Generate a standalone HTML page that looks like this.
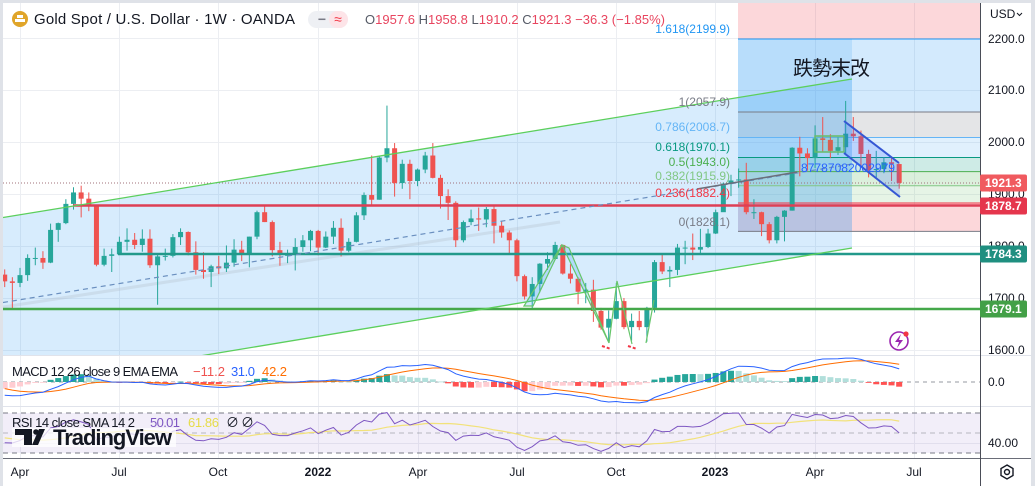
<!DOCTYPE html>
<html><head><meta charset="utf-8"><title>Gold Spot / U.S. Dollar 1W</title>
<style>
html,body{margin:0;padding:0;background:#dfe2e8;width:1035px;height:486px;overflow:hidden}
svg{display:block}
text{font-family:"Liberation Sans","Noto Sans CJK TC",sans-serif}
</style></head><body>
<svg id="chart" xmlns="http://www.w3.org/2000/svg" width="1035" height="486" viewBox="0 0 1035 486">
<defs>
 <clipPath id="cm"><rect x="3" y="3" width="977" height="352"/></clipPath>
 <clipPath id="cd"><rect x="3" y="356" width="977" height="50"/></clipPath>
 <clipPath id="cr"><rect x="3" y="407" width="977" height="51"/></clipPath>
</defs>
<rect x="3" y="3" width="1028" height="483" fill="#ffffff"/>

<!-- grid -->
<g stroke="#eceef2" stroke-width="1">
 <line x1="20.5" y1="3" x2="20.5" y2="458"/><line x1="119.5" y1="3" x2="119.5" y2="458"/>
 <line x1="218.5" y1="3" x2="218.5" y2="458"/><line x1="318.5" y1="3" x2="318.5" y2="458"/>
 <line x1="418.5" y1="3" x2="418.5" y2="458"/><line x1="517.5" y1="3" x2="517.5" y2="458"/>
 <line x1="616.5" y1="3" x2="616.5" y2="458"/><line x1="715.5" y1="3" x2="715.5" y2="458"/>
 <line x1="815.5" y1="3" x2="815.5" y2="458"/><line x1="914.5" y1="3" x2="914.5" y2="458"/>
 <line x1="3" y1="38.5" x2="980" y2="38.5"/><line x1="3" y1="90.5" x2="980" y2="90.5"/>
 <line x1="3" y1="142.5" x2="980" y2="142.5"/><line x1="3" y1="194.5" x2="980" y2="194.5"/>
 <line x1="3" y1="246.5" x2="980" y2="246.5"/><line x1="3" y1="298.5" x2="980" y2="298.5"/>
 <line x1="3" y1="350.5" x2="980" y2="350.5"/>
 <line x1="3" y1="443.5" x2="980" y2="443.5"/>
</g>

<g clip-path="url(#cm)">
 <!-- fib fills -->
 <rect x="738" y="3" width="242" height="36" fill="rgba(242,54,69,0.2)"/>
 <rect x="738" y="39" width="242" height="73" fill="rgba(33,150,243,0.2)"/>
 <rect x="738" y="112" width="242" height="25.5" fill="rgba(120,123,134,0.2)"/>
 <rect x="738" y="137.5" width="242" height="20" fill="rgba(100,181,246,0.2)"/>
 <rect x="738" y="157.5" width="242" height="14.1" fill="rgba(8,153,129,0.2)"/>
 <rect x="738" y="171.6" width="242" height="14.1" fill="rgba(76,175,80,0.2)"/>
 <rect x="738" y="185.7" width="242" height="17.3" fill="rgba(129,199,132,0.2)"/>
 <rect x="738" y="203" width="242" height="28.4" fill="rgba(242,54,69,0.2)"/>
 <rect x="738" y="39" width="114" height="192.4" fill="rgba(33,150,243,0.15)"/>
 <!-- big channel fill -->
 <polygon points="3,217.5 852,79 852,248 3,388.6" fill="rgba(33,150,243,0.18)"/>
 <!-- fib lines -->
 <g stroke-width="1">
  <line x1="738" y1="39" x2="980" y2="39" stroke="#2196f3"/>
  <line x1="738" y1="112" x2="980" y2="112" stroke="#787b86"/>
  <line x1="738" y1="137.5" x2="980" y2="137.5" stroke="#64b5f6"/>
  <line x1="738" y1="157.5" x2="980" y2="157.5" stroke="#089981"/>
  <line x1="738" y1="171.6" x2="980" y2="171.6" stroke="#4caf50"/>
  <line x1="738" y1="185.7" x2="980" y2="185.7" stroke="#81c784"/>
  <line x1="738" y1="203" x2="980" y2="203" stroke="#f23645"/>
  <line x1="738" y1="231.4" x2="980" y2="231.4" stroke="#787b86"/>
 </g>
 <!-- faint trend line -->
 <line x1="3" y1="307" x2="560" y2="222" stroke="rgba(175,185,198,0.3)" stroke-width="3"/>
 <!-- current price dotted -->
 <line x1="3" y1="183" x2="980" y2="183" stroke="#a0707a" stroke-width="1" stroke-dasharray="1,2"/>
 <g id="candles"></g>
 <!-- horizontal levels -->
 <line x1="73" y1="205.5" x2="980" y2="205.5" stroke="#de3f55" stroke-width="2.5"/>
 <line x1="118" y1="254" x2="980" y2="254" stroke="#22998b" stroke-width="2.5"/>
 <line x1="3" y1="309" x2="980" y2="309" stroke="#45a84a" stroke-width="2.5"/>
 <!-- channel lines -->
 <line x1="3" y1="217.5" x2="852" y2="79" stroke="#5ccf5c" stroke-width="1.3"/>
 <line x1="3" y1="388.6" x2="852" y2="248" stroke="#5ccf5c" stroke-width="1.3"/>
 <line x1="3" y1="302.5" x2="852" y2="164" stroke="#6a8fbf" stroke-width="1.2" stroke-dasharray="5,4"/>
 <line x1="697" y1="189" x2="797" y2="172" stroke="#6b6f7a" stroke-width="1.5"/>
 <!-- zigzag pattern -->
 <g stroke="#66c56a" stroke-width="1.2" fill="rgba(33,150,243,0.2)">
  <polygon points="524,306 562,245 533,306"/>
  <polygon points="562,245 609,343 569,248"/>
  <polyline points="609,343 617,281 632,344" fill="none"/>
  <polyline points="646,343 654,300" fill="none"/>
 </g>
 <line x1="602" y1="346" x2="611" y2="349" stroke="#f23645" stroke-width="2" stroke-dasharray="3,2"/>
 <line x1="628" y1="346" x2="637" y2="349" stroke="#f23645" stroke-width="2" stroke-dasharray="3,2"/>
 <!-- consolidation box -->
 <rect x="815" y="136" width="29" height="16" fill="rgba(76,175,80,0.15)" stroke="#66bb6a" stroke-width="1.5"/>
 <!-- descending channel -->
 <polygon points="844,121 899,163 900,197 844,153" fill="rgba(41,98,255,0.2)"/>
 <line x1="844" y1="121" x2="899" y2="163" stroke="#3557d4" stroke-width="2"/>
 <line x1="844" y1="153" x2="900" y2="197" stroke="#3557d4" stroke-width="2"/>
 <text x="801" y="172" font-size="12" fill="#2962ff" textLength="94" lengthAdjust="spacingAndGlyphs">87787082002979</text>
 <!-- fib labels -->
 <g font-size="12" text-anchor="end">
  <text x="730" y="33" fill="#2196f3">1.618(2199.9)</text>
  <text x="730" y="106" fill="#787b86">1(2057.9)</text>
  <text x="730" y="131" fill="#64b5f6">0.786(2008.7)</text>
  <text x="730" y="151" fill="#089981">0.618(1970.1)</text>
  <text x="730" y="166" fill="#4caf50">0.5(1943.0)</text>
  <text x="730" y="180" fill="#81c784">0.382(1915.9)</text>
  <text x="730" y="197" fill="#f23645">0.236(1882.4)</text>
  <text x="730" y="226" fill="#787b86">0(1828.1)</text>
 </g>
 <text x="793" y="75" font-size="20" fill="#131722" textLength="77">跌勢末改</text>
 <!-- lightning icon -->
 <circle cx="899" cy="341" r="9" fill="#fff" stroke="#9c27b0" stroke-width="1.6"/>
 <polygon points="901,334 895,342 899,342 897,348 903,340 899,340" fill="#9c27b0"/>
 <circle cx="906" cy="334" r="2.6" fill="#f23645"/>
</g>

<!-- header -->
<circle cx="20" cy="19" r="8" fill="#e0a52a"/>
<rect x="15" y="19" width="10" height="3" fill="#fff"/>
<rect x="17" y="15" width="6" height="3" fill="#fff"/>
<text x="34" y="24" font-size="15" fill="#131722" textLength="261">Gold Spot / U.S. Dollar · 1W · OANDA</text>
<rect x="308" y="11" width="40" height="17" rx="8.5" fill="#eef0f4"/>
<rect x="329" y="11" width="19" height="17" rx="8.5" fill="#fde4e8"/>
<text x="322" y="24" font-size="14" fill="#787b86" text-anchor="middle" font-weight="bold">−</text>
<text x="338" y="24" font-size="14" fill="#f23645" text-anchor="middle">≈</text>
<text x="365" y="24" font-size="13" fill="#e8455f" textLength="300"><tspan fill="#555a66">O</tspan>1957.6 <tspan fill="#555a66">H</tspan>1958.8 <tspan fill="#555a66">L</tspan>1910.2 <tspan fill="#555a66">C</tspan>1921.3 −36.3 (−1.85%)</text>

<!-- MACD pane -->
<line x1="3" y1="355.5" x2="1031" y2="355.5" stroke="#e0e3eb"/>
<g clip-path="url(#cd)">
 <line x1="3" y1="382" x2="980" y2="382" stroke="#9598a1" stroke-dasharray="4,4" stroke-width="1"/>
 <g id="macd"></g>
</g>
<line x1="3" y1="406.5" x2="1031" y2="406.5" stroke="#e0e3eb"/>
<text x="12" y="376" font-size="13" fill="#131722" textLength="166">MACD 12 26 close 9 EMA EMA</text>
<text x="193" y="376" font-size="13" fill="#ef5350" textLength="32">−11.2</text>
<text x="231" y="376" font-size="13" fill="#2962ff" textLength="24">31.0</text>
<text x="262" y="376" font-size="13" fill="#ff6d00" textLength="25">42.2</text>

<!-- RSI pane -->
<rect x="3" y="413" width="977" height="40" fill="rgba(126,87,194,0.1)"/>
<line x1="3" y1="413" x2="980" y2="413" stroke="#787b86" stroke-dasharray="5,4"/>
<line x1="3" y1="433" x2="980" y2="433" stroke="rgba(120,123,134,0.5)" stroke-dasharray="5,4"/>
<line x1="3" y1="453" x2="980" y2="453" stroke="#787b86" stroke-dasharray="5,4"/>
<g clip-path="url(#cr)"><g id="rsi"></g></g>
<text x="12" y="427" font-size="13" fill="#131722" textLength="123">RSI 14 close SMA 14 2</text>
<text x="150" y="427" font-size="13" fill="#7e57c2" textLength="30">50.01</text>
<text x="188" y="427" font-size="13" fill="#e6dc4a" textLength="31">61.86</text>
<text x="226" y="427" font-size="13" fill="#131722">∅</text>
<text x="241" y="427" font-size="13" fill="#131722">∅</text>
<!-- TradingView logo -->
<rect x="12" y="428" width="164" height="19" fill="rgba(255,255,255,0.75)"/>
<rect x="15" y="429" width="17" height="6" fill="#131722"/>
<rect x="24" y="429" width="8" height="16" fill="#131722"/>
<circle cx="36" cy="432" r="2.8" fill="#131722"/>
<polygon points="39,429 45,429 38,445 32,445" fill="#131722"/>
<text x="53" y="445" font-size="22" font-weight="bold" fill="#131722" textLength="119">TradingView</text>

<!-- time axis -->
<line x1="3" y1="458.5" x2="1031" y2="458.5" stroke="#6a6d78"/>
<g font-size="12" fill="#131722" text-anchor="middle">
 <text x="20" y="476">Apr</text><text x="119" y="476">Jul</text><text x="218" y="476">Oct</text>
 <text x="318" y="476" font-weight="bold">2022</text><text x="418" y="476">Apr</text>
 <text x="517" y="476">Jul</text><text x="616" y="476">Oct</text>
 <text x="715" y="476" font-weight="bold">2023</text><text x="815" y="476">Apr</text>
 <text x="914" y="476">Jul</text>
</g>

<!-- right axis -->
<line x1="980.5" y1="3" x2="980.5" y2="486" stroke="#4a4d57"/>
<g font-size="12" fill="#131722">
 <text x="990" y="18">USD</text>
 <text x="988" y="43">2200.0</text><text x="988" y="94">2100.0</text>
 <text x="988" y="146">2000.0</text><text x="988" y="198">1900.0</text>
 <text x="988" y="250">1800.0</text><text x="988" y="302">1700.0</text>
 <text x="988" y="354">1600.0</text>
</g>
<polyline points="1017,13 1019.5,15.5 1022,13" fill="none" stroke="#131722" stroke-width="1"/>
<rect x="981" y="356" width="50" height="50" fill="#fff"/>
<line x1="981" y1="355.5" x2="1031" y2="355.5" stroke="#e0e3eb"/>
<line x1="981" y1="406.5" x2="1031" y2="406.5" stroke="#e0e3eb"/>
<text x="988" y="386" font-size="12" fill="#131722">0.0</text>
<text x="988" y="447" font-size="12" fill="#131722">40.00</text>
<g font-size="12" fill="#ffffff" font-weight="bold">
 <rect x="980" y="174.5" width="47" height="17" rx="2" fill="#f05a5f"/><text x="985" y="187">1921.3</text>
 <rect x="980" y="197.5" width="47" height="17" rx="2" fill="#e5364d"/><text x="985" y="210">1878.7</text>
 <rect x="980" y="245.5" width="47" height="17" rx="2" fill="#1f8f80"/><text x="985" y="258">1784.3</text>
 <rect x="980" y="300.5" width="47" height="17" rx="2" fill="#43a047"/><text x="985" y="313">1679.1</text>
</g>
<polygon points="1007,465 1013,468.5 1013,475.5 1007,479 1001,475.5 1001,468.5" fill="none" stroke="#131722" stroke-width="1.4"/>
<circle cx="1007" cy="472" r="2.5" fill="none" stroke="#131722" stroke-width="1.4"/>
</svg>

<script>
(function(){
var ns='http://www.w3.org/2000/svg';
function el(t,a,p){var e=document.createElementNS(ns,t);for(var k in a)e.setAttribute(k,a[k]);p.appendChild(e);return e;}
var pre=[1560,1557,1571,1589,1570,1584,1643,1585,1674,1529,1498,1617,1620,1683,1683,1729,1700,1702,1743,1735,1730,1685,1730,1743,1771,1775,1799,1810,1902,1975,2035,1944,1940,1964,1933,1940,1950,1862,1900,1930,1900,1902,1879,1951,1889,1871,1788,1838,1839,1881,1877,1895,1850,1829,1856,1848,1814,1824,1784,1734,1700,1720,1745];
var bars=[
[1745,1755,1721,1732],[1732,1740,1677,1729],[1729,1758,1721,1744],[1744,1784,1733,1777],[1777,1797,1763,1777],[1777,1790,1756,1768],
[1768,1843,1767,1831],[1831,1845,1808,1844],[1844,1890,1842,1881],[1881,1913,1870,1903],[1903,1916,1855,1891],
[1891,1903,1867,1877],[1877,1878,1761,1764],[1764,1795,1761,1781],[1781,1795,1750,1784],
[1784,1818,1783,1808],[1808,1834,1791,1812],[1812,1825,1794,1802],[1802,1832,1789,1814],
[1814,1832,1758,1763],[1763,1784,1687,1780],[1780,1795,1772,1781],[1781,1823,1778,1817],[1817,1834,1802,1827],
[1827,1828,1782,1788],[1788,1809,1745,1754],[1754,1788,1737,1750],[1750,1764,1721,1761],
[1761,1781,1746,1757],[1757,1801,1750,1768],[1768,1813,1760,1793],[1793,1810,1771,1783],
[1783,1818,1759,1818],[1818,1868,1813,1865],[1865,1877,1846,1846],[1846,1849,1780,1792],[1792,1808,1762,1783],
[1783,1793,1767,1783],[1783,1815,1753,1798],[1798,1821,1789,1811],[1811,1831,1790,1829],
[1829,1831,1782,1797],[1797,1828,1796,1818],[1818,1848,1804,1835],[1835,1853,1780,1791],[1791,1815,1788,1808],
[1808,1865,1807,1859],[1859,1903,1850,1898],[1898,1974,1878,1889],[1889,1974,1889,1970],
[1970,2070,1961,1988],[1988,1998,1895,1921],[1921,1966,1910,1958],[1958,1966,1890,1925],
[1925,1949,1915,1947],[1947,1981,1940,1974],[1974,1998,1930,1931],[1931,1937,1872,1896],
[1896,1909,1850,1883],[1883,1886,1798,1811],[1811,1849,1807,1846],[1846,1870,1840,1853],[1853,1874,1829,1851],
[1851,1875,1836,1871],[1871,1879,1805,1839],[1839,1847,1816,1826],[1826,1830,1785,1811],
[1811,1814,1732,1742],[1742,1745,1697,1703],[1703,1740,1680,1727],[1727,1767,1711,1766],
[1766,1788,1754,1775],[1775,1808,1774,1802],[1802,1803,1745,1747],[1747,1765,1728,1737],[1737,1740,1688,1712],
[1712,1729,1690,1716],[1716,1735,1654,1675],[1675,1681,1639,1643],[1643,1676,1615,1660],
[1660,1729,1659,1694],[1694,1700,1640,1644],[1644,1670,1618,1656],[1656,1675,1638,1644],[1644,1683,1616,1681],
[1681,1773,1672,1769],[1769,1786,1746,1751],[1751,1761,1721,1754],[1754,1804,1744,1797],
[1797,1810,1765,1797],[1797,1824,1773,1793],[1793,1833,1784,1798],[1798,1833,1796,1824],
[1824,1870,1823,1865],[1865,1922,1867,1920],[1920,1937,1896,1926],[1926,1949,1912,1928],[1928,1960,1861,1865],
[1865,1890,1852,1865],[1865,1866,1819,1842],[1842,1846,1805,1811],[1811,1858,1805,1856],
[1856,1869,1809,1868],[1868,1990,1868,1989],[1989,2010,1934,1978],[1978,1988,1945,1969],
[1969,2032,1950,2007],[2007,2048,1982,2004],[2004,2015,1969,1983],[1983,2009,1975,1990],
[1990,2079,1977,2016],[2016,2048,2002,2011],[2011,2022,1952,1977],[1977,1985,1932,1946],[1946,1983,1932,1948],
[1948,1971,1940,1961],[1961,1971,1925,1958],[1957.6,1958.8,1910.2,1921.3]];
function Y(p){return 142+(2000-p)*0.52;}
function X(k){return 20+(k-2)*7.645;}
var gC=document.getElementById('candles');
bars.forEach(function(b,k){
  var o=b[0],h=b[1],l=b[2],c=b[3],x=X(k),col=c>=o?'#26a69a':'#ef5350';
  el('line',{x1:x,x2:x,y1:Y(h),y2:Y(l),stroke:col,'stroke-width':1},gC);
  var y1=Y(Math.max(o,c)),y2=Y(Math.min(o,c));
  el('rect',{x:x-2.5,y:y1,width:5,height:Math.max(1,y2-y1),fill:col},gC);
});
var cl=pre.concat(bars.map(function(b){return b[3];}));
var off=pre.length;
function ema(a,n){var k=2/(n+1),r=[],e=a[0];for(var i=0;i<a.length;i++){e=i===0?a[0]:a[i]*k+e*(1-k);r.push(e);}return r;}
var e12=ema(cl,12),e26=ema(cl,26),m=cl.map(function(_,i){return e12[i]-e26[i];});
var sg=ema(m,9),hs=m.map(function(v,i){return v-sg[i];});
var gM=document.getElementById('macd');
function MY(v){return 382-v*0.42;}
var pm=[],ps=[];
for(var k=0;k<bars.length;k++){
  var i=k+off,x=X(k),h=hs[i],ph=hs[i-1],col;
  if(h>=0)col=(ph<h)?'#26a69a':'#b2dfdb';else col=(ph<h)?'#ffcdd2':'#ff5252';
  var ya=MY(0),yb=MY(h);
  el('rect',{x:x-3,y:Math.min(ya,yb),width:6,height:Math.max(0.8,Math.abs(yb-ya)),fill:col},gM);
  pm.push(x.toFixed(1)+','+MY(m[i]).toFixed(1));ps.push(x.toFixed(1)+','+MY(sg[i]).toFixed(1));
}
el('polyline',{points:ps.join(' '),fill:'none',stroke:'#ff6d00','stroke-width':1},gM);
el('polyline',{points:pm.join(' '),fill:'none',stroke:'#2962ff','stroke-width':1},gM);
var rsi=[],ag=0,al=0;
for(var i=1;i<cl.length;i++){
  var ch=cl[i]-cl[i-1],g=Math.max(ch,0),l=Math.max(-ch,0);
  if(i<=14){ag+=g/14;al+=l/14;rsi[i]=(i===14)?100-100/(1+ag/al):null;}
  else{ag=(ag*13+g)/14;al=(al*13+l)/14;rsi[i]=100-100/(1+ag/al);}
}
var sma=[];for(var i=0;i<cl.length;i++){if(i<28){sma[i]=null;continue;}var s=0;for(var j=i-13;j<=i;j++)s+=rsi[j];sma[i]=s/14;}
var gR=document.getElementById('rsi'),pr=[],pa=[];
for(var k=0;k<bars.length;k++){var i=k+off,x=X(k);pr.push(x.toFixed(1)+','+(433-(rsi[i]-50)).toFixed(1));pa.push(x.toFixed(1)+','+(433-(sma[i]-50)).toFixed(1));}
el('polyline',{points:pa.join(' '),fill:'none',stroke:'#f2e27a','stroke-width':1.2},gR);
el('polyline',{points:pr.join(' '),fill:'none',stroke:'#7e57c2','stroke-width':1},gR);
})();
</script>
</body></html>
